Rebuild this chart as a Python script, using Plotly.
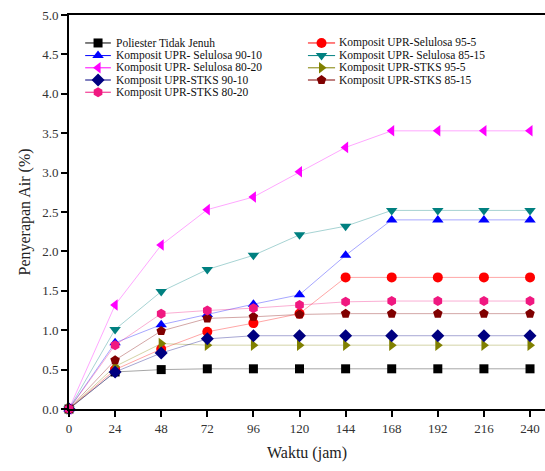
import plotly.graph_objects as go

hours = [0, 24, 48, 72, 96, 120, 144, 168, 192, 216, 240]

series_names = [
    "Poliester Tidak Jenuh",
    "Komposit UPR-Selulosa 95-5",
    "Komposit UPR- Selulosa 90-10",
    "Komposit UPR- Selulosa 85-15",
    "Komposit UPR- Selulosa 80-20",
    "Komposit UPR-STKS 95-5",
    "Komposit UPR-STKS 90-10",
    "Komposit UPR-STKS 85-15",
    "Komposit UPR-STKS 80-20",
]

poliester = [0, 0.47, 0.50, 0.51, 0.51, 0.51, 0.51, 0.51, 0.51, 0.51, 0.51]
selulosa_95_5 = [0, 0.50, 0.76, 0.98, 1.09, 1.21, 1.67, 1.67, 1.67, 1.67, 1.67]
selulosa_90_10 = [0, 0.84, 1.07, 1.20, 1.33, 1.45, 1.95, 2.40, 2.40, 2.40, 2.40]
selulosa_85_15 = [0, 1.01, 1.49, 1.77, 1.95, 2.21, 2.32, 2.52, 2.52, 2.52, 2.52]
selulosa_80_20 = [0, 1.32, 2.08, 2.53, 2.69, 3.01, 3.32, 3.53, 3.53, 3.53, 3.53]
stks_95_5 = [0, 0.54, 0.83, 0.81, 0.81, 0.81, 0.81, 0.81, 0.81, 0.81, 0.81]
stks_90_10 = [0, 0.47, 0.71, 0.89, 0.93, 0.93, 0.93, 0.93, 0.93, 0.93, 0.93]
stks_85_15 = [0, 0.62, 0.99, 1.15, 1.17, 1.20, 1.21, 1.21, 1.21, 1.21, 1.21]
stks_80_20 = [0, 0.81, 1.21, 1.25, 1.28, 1.32, 1.36, 1.37, 1.37, 1.37, 1.37]

values = [poliester, selulosa_95_5, selulosa_90_10, selulosa_85_15, selulosa_80_20,
          stks_95_5, stks_90_10, stks_85_15, stks_80_20]

colors = ["#000000", "#FF0000", "#0000FF", "#008080", "#FF00FF",
          "#808000", "#000080", "#800000", "#F01880"]
line_colors = ["rgba(0,0,0,0.35)", "rgba(255,0,0,0.35)", "rgba(0,0,255,0.35)",
               "rgba(0,128,128,0.35)", "rgba(255,0,255,0.35)", "rgba(128,128,0,0.35)",
               "rgba(0,0,128,0.35)", "rgba(128,0,0,0.35)", "rgba(240,24,128,0.35)"]
symbols = ["square", "circle", "triangle-up", "triangle-down", "triangle-left",
           "triangle-right", "diamond", "pentagon", "hexagon"]
sizes = [9, 10, 10, 10, 10, 10, 10, 10, 10]

FONT = "Liberation Serif"

fig = go.Figure()
for name, v, c, lc, s, sz in zip(series_names, values, colors, line_colors, symbols, sizes):
    fig.add_trace(go.Scatter(
        x=hours, y=v, name=name, mode="lines+markers",
        line=dict(color=lc, width=1),
        marker=dict(color=c, symbol=s, size=sz, line=dict(width=0)),
        cliponaxis=False, showlegend=False,
    ))

# custom compact legend (two columns) on an overlay [0,1] axis
legend_rows = [0.929, 0.897, 0.866, 0.835, 0.804]
col_line = [(0.034, 0.088), (0.502, 0.559)]
col_marker = [0.061, 0.5305]
col_text = [0.097, 0.566]
for i, (name, c, lc, s, sz) in enumerate(zip(series_names, colors, line_colors, symbols, sizes)):
    col = i % 2
    row = i // 2
    yy = legend_rows[row]
    fig.add_trace(go.Scatter(
        x=list(col_line[col]), y=[yy, yy], mode="lines",
        line=dict(color=c, width=1), xaxis="x2", yaxis="y2",
        showlegend=False, hoverinfo="skip",
    ))
    fig.add_trace(go.Scatter(
        x=[col_marker[col]], y=[yy], mode="markers",
        marker=dict(color=c, symbol=s, size=sz, line=dict(width=0)),
        xaxis="x2", yaxis="y2", showlegend=False, hoverinfo="skip",
        cliponaxis=False,
    ))
    fig.add_annotation(
        x=col_text[col], y=yy, xref="x2", yref="y2", text=name,
        showarrow=False, xanchor="left", yanchor="middle", borderpad=0,
        font=dict(family=FONT, size=11.5, color="#111111"),
    )

fig.update_layout(
    width=545, height=471,
    margin=dict(l=69, r=0, t=15, b=62, autoexpand=False),
    paper_bgcolor="white", plot_bgcolor="white",
    font=dict(family=FONT, color="#222222"),
    xaxis=dict(
        range=[0, 247.8], tickmode="array", tickvals=hours,
        ticktext=[str(h) for h in hours],
        ticks="outside", ticklen=6, tickwidth=2, tickcolor="black",
        showline=True, linewidth=2, linecolor="black", mirror=True,
        showgrid=False, zeroline=False, automargin=False,
        ticklabeloverflow="allow",
        tickfont=dict(family=FONT, size=13, color="#333333"),
        title=dict(text="Waktu (jam)", font=dict(family=FONT, size=16, color="#222222"), standoff=12),
    ),
    yaxis=dict(
        range=[0, 5], dtick=0.5, tick0=0, tickformat=".1f",
        ticks="outside", ticklen=6, tickwidth=2, tickcolor="black",
        showline=True, linewidth=2, linecolor="black",
        showgrid=False, zeroline=False, automargin=False,
        ticklabeloverflow="allow",
        tickfont=dict(family=FONT, size=13, color="#333333"),
        title=dict(text="Penyerapan Air (%)", font=dict(family=FONT, size=16, color="#222222"), standoff=8),
    ),
    xaxis2=dict(range=[0, 1], overlaying="x", visible=False, fixedrange=True),
    yaxis2=dict(range=[0, 1], overlaying="y", visible=False, fixedrange=True),
)

# remove the default 8px page margin so the 545x471 figure fills the window exactly
fig.write_html(
    "out.html",
    config={"displayModeBar": False},
    post_script="document.body.style.margin='0px'; document.body.style.overflow='hidden';",
)
